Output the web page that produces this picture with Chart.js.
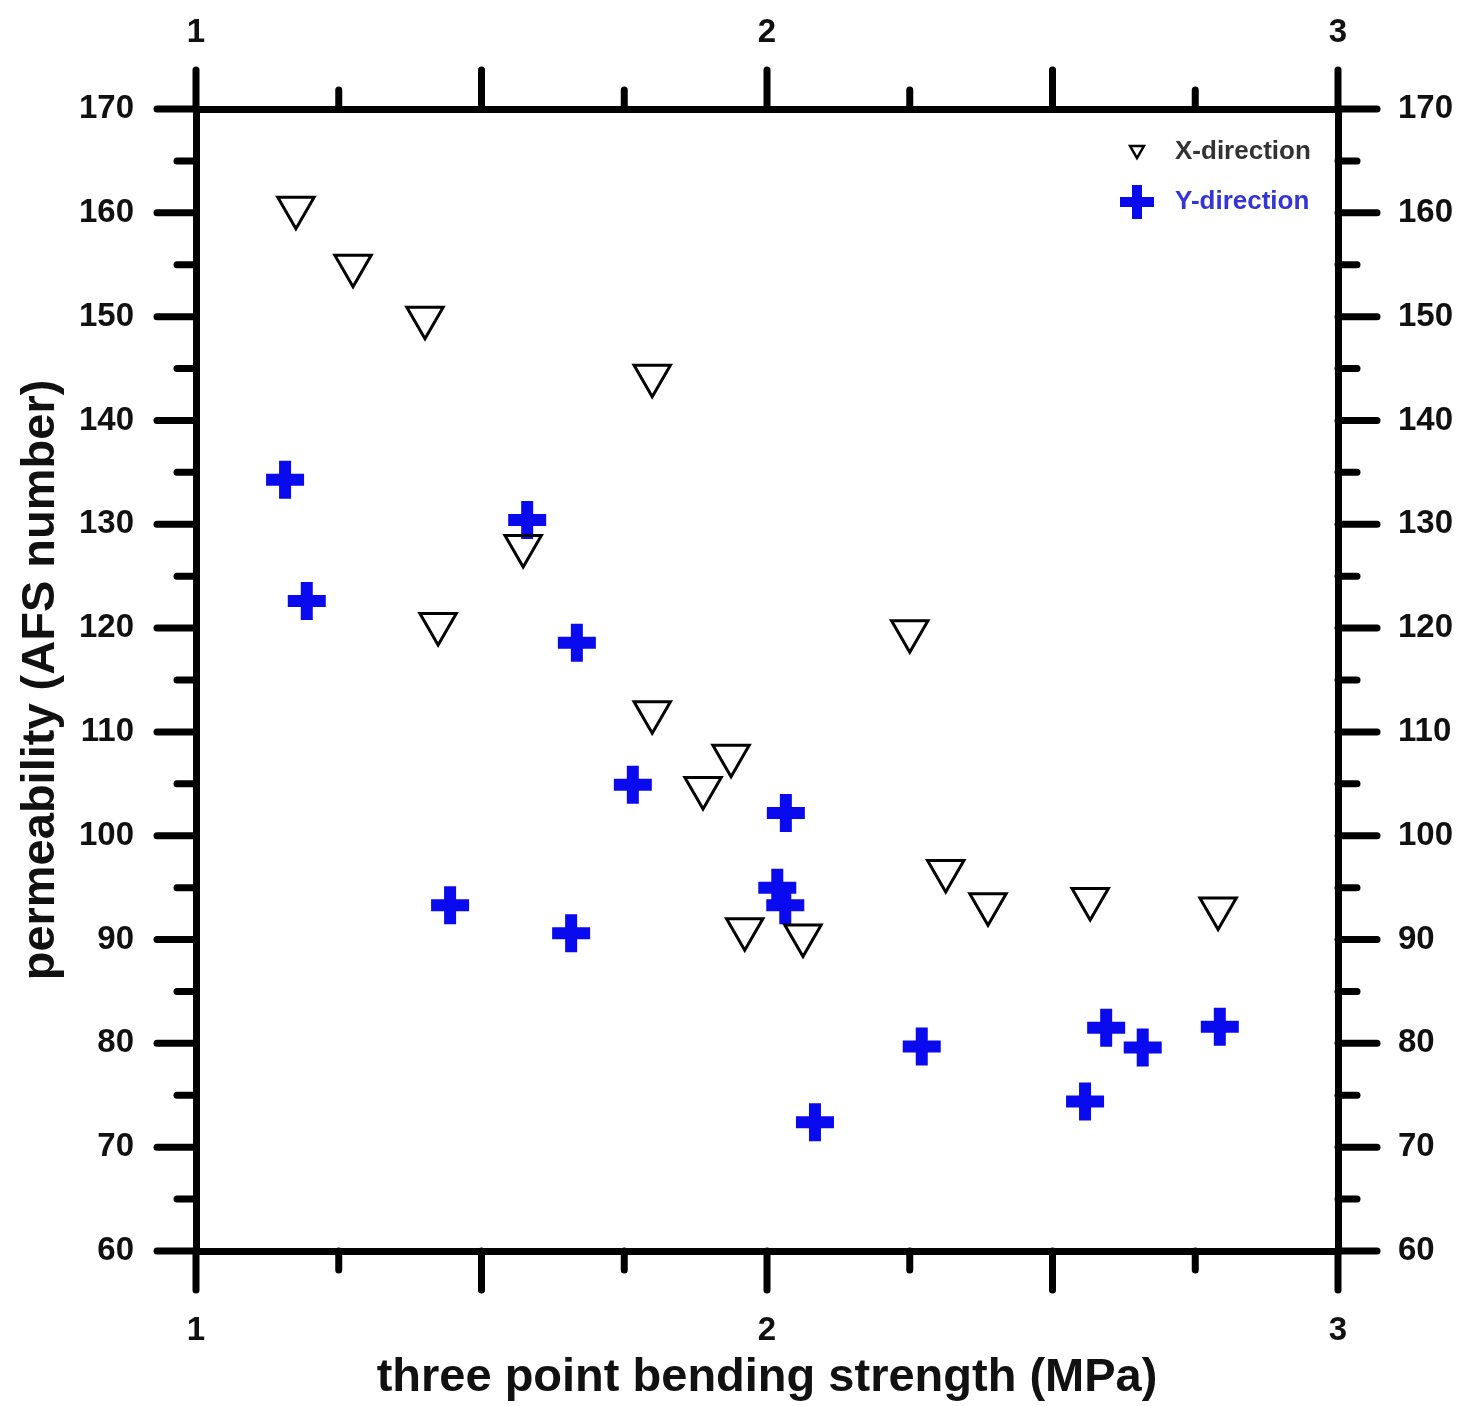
<!DOCTYPE html>
<html>
<head>
<meta charset="utf-8">
<script src="https://cdn.jsdelivr.net/npm/chart.js@4.4.0/dist/chart.umd.min.js"></script>
<style>
  html, body { margin: 0; padding: 0; background: #fff; }
  #wrap { width: 1465px; height: 1406px; }
</style>
</head>
<body>
<div id="wrap"><canvas id="chart" width="1465" height="1406"></canvas></div>
<script>
// tick labels and tick marks
const xTickLabels = [1, 2, 3];
const yTickLabels = [60, 70, 80, 90, 100, 110, 120, 130, 140, 150, 160, 170];
const xMajorTicks = [1, 1.5, 2, 2.5, 3];
const xMinorTicks = [1.25, 1.75, 2.25, 2.75];
const yMajorTicks = yTickLabels;
const yMinorTicks = [65, 75, 85, 95, 105, 115, 125, 135, 145, 155, 165];

// X-direction samples
const xDirStrength = [1.175, 1.275, 1.401, 1.799, 1.573, 1.424, 1.799, 1.937, 1.888, 1.961, 2.063, 2.25, 2.313, 2.387, 2.566, 2.79];
const xDirPermeability = [160.5, 154.9, 149.9, 144.3, 127.9, 120.4, 111.9, 107.7, 104.6, 91.0, 90.4, 119.7, 96.6, 93.4, 93.9, 93.0];

// Y-direction samples
const yDirStrength = [1.156, 1.194, 1.580, 1.667, 1.765, 2.033, 1.445, 1.657, 2.018, 2.032, 2.084, 2.271, 2.557, 2.594, 2.658, 2.793];
const yDirPermeability = [134.3, 122.6, 130.4, 118.6, 104.9, 102.2, 93.3, 90.6, 95.0, 93.3, 72.4, 79.7, 74.4, 81.5, 79.6, 81.6];

const blue = '#0a0aee';
const tickFont = { family: 'Liberation Sans, Arial, sans-serif', size: 33, weight: 'bold' };
const titleFont = { family: 'Liberation Sans, Arial, sans-serif', size: 47, weight: 'bold' };

const toPoints = (xs, ys) => xs.map((x, i) => ({ x: x, y: ys[i] }));

// ticks stick out of the frame, major longer than minor
const axisTicks = {
    id: 'axisTicks',
    afterDraw(chart) {
        const ctx = chart.ctx;
        const { left, right, top, bottom } = chart.chartArea;
        const xs = chart.scales.x;
        const ys = chart.scales.y;
        ctx.save();
        ctx.strokeStyle = '#000';
        ctx.lineWidth = 7;
        ctx.lineCap = 'round';
        const line = (x1, y1, x2, y2) => {
            ctx.beginPath();
            ctx.moveTo(x1, y1);
            ctx.lineTo(x2, y2);
            ctx.stroke();
        };
        xMajorTicks.forEach(v => {
            const p = xs.getPixelForValue(v);
            line(p, bottom, p, bottom + 39);
            line(p, top, p, top - 39);
        });
        xMinorTicks.forEach(v => {
            const p = xs.getPixelForValue(v);
            line(p, bottom, p, bottom + 19);
            line(p, top, p, top - 19);
        });
        yMajorTicks.forEach(v => {
            const p = ys.getPixelForValue(v);
            line(left, p, left - 39, p);
            line(right, p, right + 39, p);
        });
        yMinorTicks.forEach(v => {
            const p = ys.getPixelForValue(v);
            line(left, p, left - 19, p);
            line(right, p, right + 19, p);
        });
        ctx.restore();
    }
};

// legend in the top right corner of the frame
const cornerLegend = {
    id: 'cornerLegend',
    afterDatasetsDraw(chart) {
        const ctx = chart.ctx;
        const { right, top } = chart.chartArea;
        const mx = right - 201;
        const tx = right - 163;
        ctx.save();
        ctx.fillStyle = '#fff';
        ctx.strokeStyle = '#000';
        ctx.lineWidth = 2.5;
        Chart.helpers.drawPoint(ctx, { pointStyle: 'triangle', rotation: 180, radius: 8, borderWidth: 2.5 }, mx, top + 41);
        ctx.strokeStyle = blue;
        ctx.lineWidth = 10;
        Chart.helpers.drawPoint(ctx, { pointStyle: 'cross', rotation: 0, radius: 17, borderWidth: 10 }, mx, top + 93);
        ctx.font = 'bold 26px Liberation Sans, Arial, sans-serif';
        ctx.textBaseline = 'middle';
        ctx.textAlign = 'left';
        ctx.fillStyle = '#333';
        ctx.fillText('X-direction', tx, top + 43);
        ctx.fillStyle = '#3434d8';
        ctx.fillText('Y-direction', tx, top + 93);
        ctx.restore();
    }
};

const hiddenGrid = { display: true, drawOnChartArea: false, drawTicks: true, tickLength: 40, tickColor: 'rgba(0,0,0,0)' };
const frame = { display: true, width: 7, color: '#000' };

new Chart(document.getElementById('chart').getContext('2d'), {
    type: 'scatter',
    data: {
        datasets: [{
            label: 'X-direction',
            data: toPoints(xDirStrength, xDirPermeability),
            pointStyle: 'triangle',
            rotation: 180,
            radius: 21,
            borderWidth: 3,
            borderColor: '#000',
            backgroundColor: 'rgba(255,255,255,0)'
        }, {
            label: 'Y-direction',
            data: toPoints(yDirStrength, yDirPermeability),
            pointStyle: 'cross',
            radius: 19,
            borderWidth: 12,
            borderColor: blue,
            backgroundColor: blue
        }]
    },
    options: {
        responsive: false,
        animation: false,
        events: [],
        layout: { padding: 0 },
        plugins: {
            legend: { display: false },
            tooltip: { enabled: false }
        },
        scales: {
            x: {
                type: 'linear',
                position: 'bottom',
                min: 1,
                max: 3,
                afterFit: s => { s.height = 155; },
                afterBuildTicks: s => { s.ticks = xTickLabels.map(v => ({ value: v })); },
                grid: hiddenGrid,
                border: frame,
                ticks: { font: tickFont, color: '#111', padding: 20, maxRotation: 0 },
                title: {
                    display: true,
                    text: 'three point bending strength (MPa)',
                    font: titleFont,
                    color: '#111',
                    padding: { top: 0, bottom: 0 }
                }
            },
            x2: {
                type: 'linear',
                position: 'top',
                min: 1,
                max: 3,
                afterFit: s => { s.height = 109; },
                afterBuildTicks: s => { s.ticks = xTickLabels.map(v => ({ value: v })); },
                grid: hiddenGrid,
                border: frame,
                ticks: { font: tickFont, color: '#111', padding: 16, maxRotation: 0 }
            },
            y: {
                type: 'linear',
                position: 'left',
                min: 60,
                max: 170,
                afterFit: s => { s.width = 196; },
                afterBuildTicks: s => { s.ticks = yTickLabels.map(v => ({ value: v })); },
                grid: hiddenGrid,
                border: frame,
                ticks: { font: tickFont, color: '#111', padding: 22 },
                title: {
                    display: true,
                    text: 'permeability (AFS number)',
                    font: titleFont,
                    color: '#111',
                    padding: { top: 13, bottom: 0 }
                }
            },
            y2: {
                type: 'linear',
                position: 'right',
                min: 60,
                max: 170,
                afterFit: s => { s.width = 127; },
                afterBuildTicks: s => { s.ticks = yTickLabels.map(v => ({ value: v })); },
                grid: hiddenGrid,
                border: frame,
                ticks: { font: tickFont, color: '#111', padding: 20 }
            }
        }
    },
    plugins: [axisTicks, cornerLegend]
});
</script>
</body>
</html>
